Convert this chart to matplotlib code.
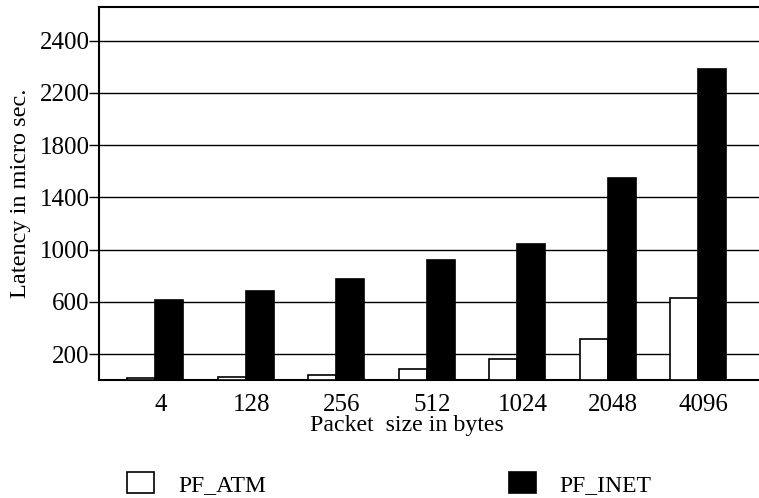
import matplotlib
matplotlib.use("Agg")
import matplotlib.pyplot as plt
import numpy as np

plt.rcParams["font.family"] = ["Liberation Serif", "DejaVu Serif"]

# packet sizes and latencies (micro sec.)
sizes = ["4", "128", "256", "512", "1024", "2048", "4096"]
pf_atm = [20, 28, 38, 84, 160, 317, 634]
pf_inet = [615, 683, 775, 923, 1041, 1547, 2381]

# y tick positions and the labels printed on the original axis
ytick_pos = [200, 600, 1000, 1400, 1800, 2200, 2600]
ytick_labels = ["200", "600", "1000", "1400", "1800", "2200", "2400"]

fs = 18

fig = plt.figure(figsize=(7.59, 4.98), dpi=100)
ax = fig.add_axes([0.1308, 0.2363, 0.8692, 0.7502])

x = np.arange(len(sizes))
w = 0.31
ax.bar(x - w / 2, pf_atm, w, color="white", edgecolor="black", linewidth=1.2,
       label="PF_ATM", zorder=3)
ax.bar(x + w / 2, pf_inet, w, color="black", edgecolor="black", linewidth=1.2,
       label="PF_INET", zorder=3)

ax.set_xlim(-0.62, 6.67)
ax.set_ylim(0, 2860)
ax.set_yticks(ytick_pos)
ax.set_yticklabels(ytick_labels)
ax.set_xticks(x + 0.06)
ax.set_xticklabels(sizes)
ax.yaxis.grid(True, color="black", linewidth=1.0, zorder=0)
ax.set_axisbelow(True)

ax.tick_params(axis="y", length=7, width=1.0, labelsize=fs, pad=0)
ax.tick_params(axis="x", length=0, labelsize=fs, pad=10)
ax.spines["right"].set_visible(False)
for s in ["left", "bottom", "top"]:
    ax.spines[s].set_linewidth(1.5)

ax.set_ylabel("Latency in micro sec.", fontsize=17.5, labelpad=6)
ax.set_xlabel("Packet  size in bytes", fontsize=17.2)
ax.xaxis.set_label_coords(0.466, -0.093)

fig.legend(loc="lower left", bbox_to_anchor=(125 / 759, 0.0), ncol=2,
           frameon=False, fontsize=17, handlelength=1.14, handleheight=0.97,
           handletextpad=1.0, columnspacing=10.3, borderpad=0.1,
           borderaxespad=0.0)

fig.savefig("out.png", dpi=100)
